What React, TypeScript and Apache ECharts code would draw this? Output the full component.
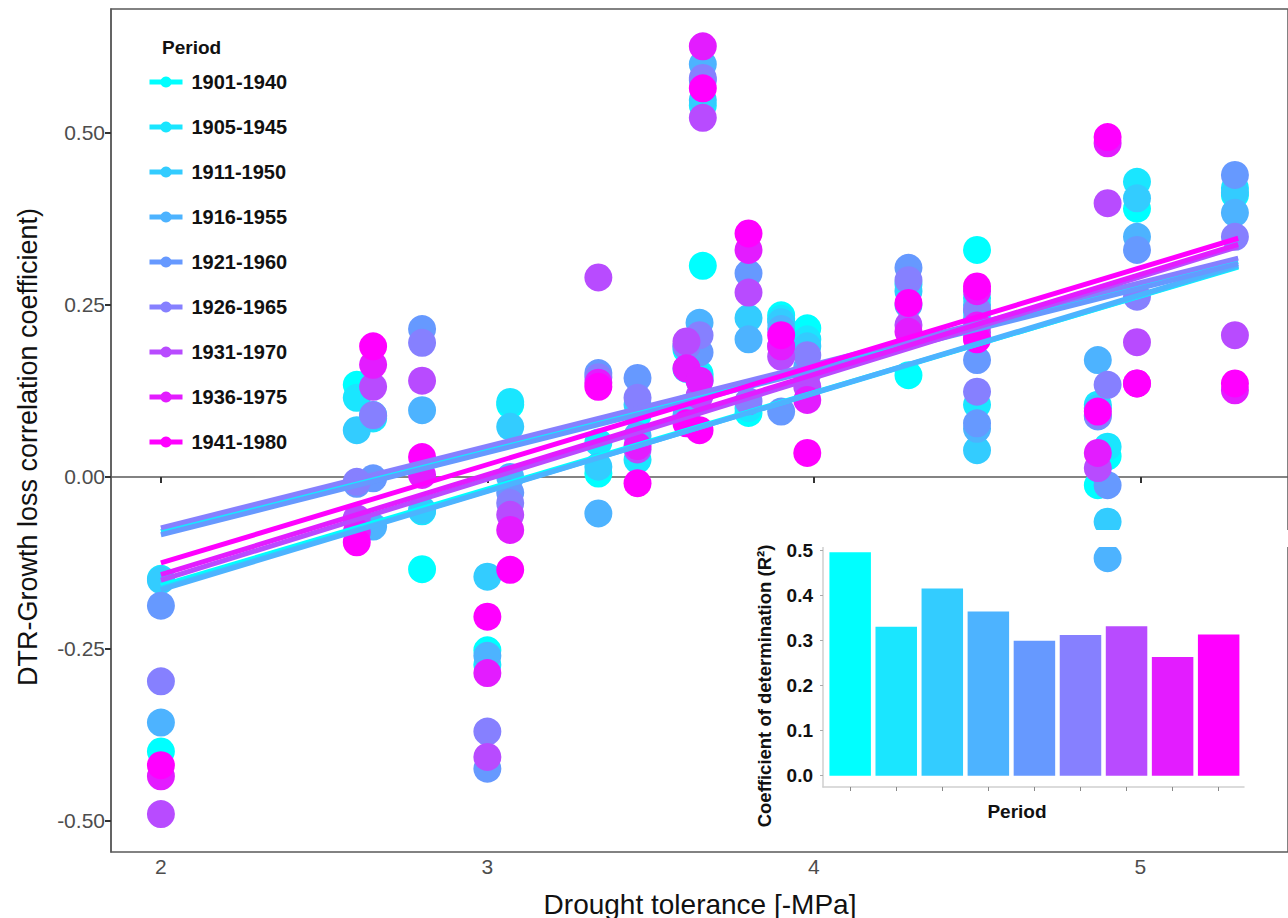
import React, { useEffect, useRef } from "react";
import * as echarts from "echarts";

const FONT = "'Liberation Sans', Arial, Helvetica, sans-serif";

const periods = [
  "1901-1940", "1905-1945", "1911-1950", "1916-1955", "1921-1960",
  "1926-1965", "1931-1970", "1936-1975", "1941-1980",
];
const colors = [
  "#00FFFF", "#1AE6FF", "#33CCFF", "#4DB3FF", "#6699FF",
  "#8680FF", "#B84BFF", "#E31CFF", "#FF00FF",
];

// drought tolerance of each species (x)
const speciesX = [
  2.0, 2.6, 2.65, 2.8, 3.0, 3.07, 3.34, 3.46, 3.61, 3.65, 3.66,
  3.8, 3.9, 3.98, 4.29, 4.5, 4.5, 4.87, 4.9, 4.99, 5.29,
];

// correlation coefficient of each species, per period
const p1901 = [-0.399, 0.134, 0.09, -0.134, -0.252, 0.105, 0.005, 0.09, 0.185, 0.15, 0.307, 0.093, 0.235, 0.216, 0.148, 0.33, 0.24, -0.012, 0.03, 0.39, 0.41];
const p1905 = [-0.148, 0.115, 0.085, -0.05, -0.273, 0.109, 0.05, 0.025, 0.157, 0.145, 0.54, 0.1, 0.23, 0.2, 0.28, 0.105, 0.26, 0.105, 0.044, 0.429, 0.42];
const p1911 = [-0.15, 0.068, 0.088, -0.048, -0.145, 0.073, 0.015, 0.105, 0.1, 0.14, 0.548, 0.231, 0.225, 0.19, 0.27, 0.039, 0.25, 0.1, -0.065, 0.405, 0.413];
const p1916 = [-0.357, -0.062, -0.072, 0.097, -0.26, 0.0, -0.053, 0.06, 0.09, 0.224, 0.6, 0.2, 0.215, 0.16, 0.25, 0.07, 0.23, 0.17, -0.118, 0.349, 0.384];
const p1921 = [-0.187, -0.01, -0.002, 0.215, -0.424, -0.023, 0.151, 0.144, 0.19, 0.181, 0.577, 0.296, 0.095, 0.15, 0.304, 0.17, 0.078, 0.088, -0.012, 0.33, 0.439];
const p1926 = [-0.297, -0.007, 0.09, 0.195, -0.37, -0.038, 0.145, 0.115, 0.19, 0.206, 0.58, 0.11, 0.19, 0.177, 0.286, 0.243, 0.124, 0.09, 0.134, 0.262, 0.349];
const p1931 = [-0.49, -0.06, 0.131, 0.14, -0.407, -0.055, 0.29, 0.04, 0.197, 0.118, 0.522, 0.268, 0.175, 0.131, 0.221, 0.202, 0.21, 0.013, 0.398, 0.196, 0.206];
const p1936 = [-0.435, -0.08, 0.163, 0.003, -0.285, -0.077, 0.137, 0.045, 0.158, 0.14, 0.626, 0.33, 0.19, 0.112, 0.211, 0.27, 0.22, 0.035, 0.485, 0.136, 0.126];
const p1941 = [-0.419, -0.095, 0.19, 0.029, -0.203, -0.135, 0.131, -0.009, 0.078, 0.068, 0.565, 0.354, 0.206, 0.035, 0.253, 0.277, 0.2, 0.095, 0.494, 0.136, 0.136];
const periodValues = [p1901, p1905, p1911, p1916, p1921, p1926, p1931, p1936, p1941];

// fitted regression lines (value at x = 2 and at x = 5.3)
const fitX = [2, 5.3];
const fitStart = [-0.158, -0.079, -0.162, -0.164, -0.084, -0.074, -0.15, -0.142, -0.125];
const fitEnd = [0.305, 0.313, 0.306, 0.308, 0.31, 0.318, 0.335, 0.338, 0.347];

// coefficient of determination per period (inset)
const r2 = [0.495, 0.33, 0.415, 0.364, 0.299, 0.312, 0.331, 0.263, 0.313];

const mainXTicks = [2, 3, 4, 5];
const mainYTicks = [-0.5, -0.25, 0, 0.25, 0.5];
const insetXTicks = [1, 2, 3, 4, 5, 6, 7, 8, 9];
const insetYTicks = [0, 0.1, 0.2, 0.3, 0.4, 0.5];

export default function App() {
  const ref = useRef<HTMLDivElement>(null);

  useEffect(() => {
    if (!ref.current) return;
    const chart = echarts.init(ref.current, undefined, { renderer: "svg" });

    const lineSeries = periods.map((p, i) => ({
      type: "line",
      name: p,
      xAxisIndex: 0,
      yAxisIndex: 0,
      data: [
        [fitX[0], fitStart[i]],
        [fitX[1], fitEnd[i]],
      ],
      symbol: "circle",
      showSymbol: false,
      silent: true,
      z: 5,
      lineStyle: { width: 5, color: colors[i] },
      itemStyle: { color: colors[i] },
    }));

    const scatterSeries = periods.map((p, i) => ({
      type: "scatter",
      name: p,
      xAxisIndex: 0,
      yAxisIndex: 0,
      data: speciesX.map((x, j) => [x, periodValues[i][j]]),
      symbol: "circle",
      symbolSize: 28,
      z: 3,
      itemStyle: { color: colors[i], opacity: 1 },
    }));

    const barSeries = {
      type: "bar",
      name: "R2",
      xAxisIndex: 1,
      yAxisIndex: 1,
      barWidth: 41.5,
      z: 8,
      data: r2.map((v, i) => ({ value: [i + 1, v], itemStyle: { color: colors[i] } })),
    };

    chart.setOption({
      animation: false,
      textStyle: { fontFamily: FONT },
      grid: [
        {
          left: 111,
          top: 9,
          right: -2,
          bottom: 66,
          show: true,
          borderColor: "#5a5a5a",
          borderWidth: 1.5,
          backgroundColor: "transparent",
        },
        { left: 823, top: 541, right: 44, bottom: 131, show: false },
      ],
      legend: {
        data: periods,
        orient: "vertical",
        left: 142,
        top: 67,
        itemWidth: 33,
        itemHeight: 14,
        itemGap: 25,
        selectedMode: false,
        lineStyle: { width: 5 },
        textStyle: {
          fontFamily: FONT,
          fontWeight: "bold",
          fontSize: 20,
          color: "#111",
          padding: [0, 0, 0, 4],
        },
      },
      xAxis: [
        {
          type: "value",
          gridIndex: 0,
          min: 1.8471,
          max: 5.4526,
          axisLine: { show: true, lineStyle: { color: "#5a5a5a", width: 1.5 } },
          axisTick: { show: true, customValues: mainXTicks, length: 6, lineStyle: { color: "#333", width: 2 } },
          axisLabel: {
            customValues: mainXTicks,
            formatter: (v: number) => String(v),
            fontSize: 21,
            color: "#4d4d4d",
            margin: 4,
            fontFamily: FONT,
          },
          splitLine: { show: false },
        },
        {
          type: "value",
          gridIndex: 1,
          min: 0.41,
          max: 9.55,
          axisLine: { show: true, onZero: false, lineStyle: { color: "#cfcfcf", width: 1.5 } },
          axisTick: { show: true, customValues: insetXTicks, length: 4, lineStyle: { color: "#888", width: 1 } },
          axisLabel: { show: false },
          splitLine: { show: false },
        },
      ],
      yAxis: [
        {
          type: "value",
          gridIndex: 0,
          min: -0.5451,
          max: 0.6802,
          axisLine: { show: true, onZero: false, lineStyle: { color: "#5a5a5a", width: 1.5 } },
          axisTick: { show: true, customValues: mainYTicks, length: 6, lineStyle: { color: "#333", width: 2 } },
          axisLabel: {
            customValues: mainYTicks,
            formatter: (v: number) => v.toFixed(2),
            fontSize: 21,
            color: "#4d4d4d",
            margin: 6,
            fontFamily: FONT,
          },
          splitLine: { show: false },
        },
        {
          type: "value",
          gridIndex: 1,
          min: -0.025,
          max: 0.52,
          axisLine: { show: true, onZero: false, lineStyle: { color: "#cfcfcf", width: 1.5 } },
          axisTick: { show: true, customValues: insetYTicks, length: 3, lineStyle: { color: "#aaa", width: 1 } },
          axisLabel: {
            customValues: insetYTicks,
            formatter: (v: number) => v.toFixed(1),
            fontSize: 19,
            fontWeight: "bold",
            color: "#111",
            margin: 10,
            fontFamily: FONT,
          },
          splitLine: { show: false },
        },
      ],
      graphic: [
        {
          type: "rect",
          z: 4,
          silent: true,
          shape: { x: 820, y: 530, width: 470, height: 17 },
          style: { fill: "#ffffff" },
        },
        {
          type: "text",
          x: 162,
          y: 47,
          style: {
            text: "Period",
            font: `bold 19px ${FONT}`,
            fill: "#111",
            align: "left",
            verticalAlign: "middle",
          },
        },
        {
          type: "text",
          x: 28,
          y: 447,
          rotation: Math.PI / 2,
          style: {
            text: "DTR-Growth loss correlation coefficient)",
            font: `27px ${FONT}`,
            fill: "#111",
            align: "center",
            verticalAlign: "middle",
          },
        },
        {
          type: "text",
          x: 700,
          y: 904,
          style: {
            text: "Drought tolerance [-MPa]",
            font: `28px ${FONT}`,
            fill: "#111",
            align: "center",
            verticalAlign: "middle",
          },
        },
        {
          type: "text",
          x: 764,
          y: 686,
          rotation: Math.PI / 2,
          style: {
            text: "Coefficient of determination (R²)",
            font: `bold 18.5px ${FONT}`,
            fill: "#111",
            align: "center",
            verticalAlign: "middle",
          },
        },
        {
          type: "text",
          x: 1017,
          y: 811,
          style: {
            text: "Period",
            font: `bold 19px ${FONT}`,
            fill: "#111",
            align: "center",
            verticalAlign: "middle",
          },
        },
      ],
      series: [...lineSeries, ...scatterSeries, barSeries],
    });

    return () => chart.dispose();
  }, []);

  return (
    <div
      ref={ref}
      style={{ position: "absolute", left: 0, top: 0, width: 1288, height: 918, background: "#ffffff" }}
    />
  );
}
